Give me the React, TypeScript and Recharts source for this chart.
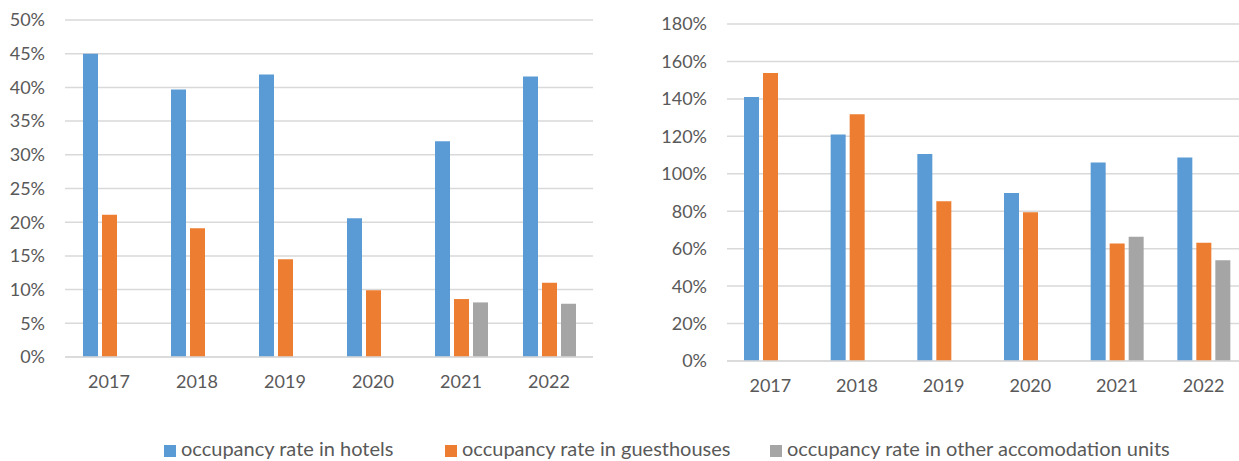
import { BarChart, Bar, XAxis, YAxis, CartesianGrid } from "recharts";

const YEARS = ["2017", "2018", "2019", "2020", "2021", "2022"];

// left panel: occupancy rate, %
const HOTELS_RATE = [45.0, 39.7, 41.9, 20.6, 32.0, 41.6];
const GUESTHOUSES_RATE = [21.1, 19.1, 14.5, 9.9, 8.6, 11.0];
const OTHER_RATE = [null, null, null, null, 8.1, 7.9];
const LEFT_TICKS = [0, 5, 10, 15, 20, 25, 30, 35, 40, 45, 50];

// right panel, %
const HOTELS_RIGHT = [141, 121, 110.5, 89.7, 106, 108.7];
const GUESTHOUSES_RIGHT = [153.8, 131.8, 85.3, 79.4, 62.7, 63.1];
const OTHER_RIGHT = [null, null, null, null, 66.4, 53.8];
const RIGHT_TICKS = [0, 20, 40, 60, 80, 100, 120, 140, 160, 180];

const SERIES = [
  { key: "hotels", name: "occupancy rate in hotels", color: "#5B9BD5" },
  { key: "guesthouses", name: "occupancy rate in guesthouses", color: "#ED7D31" },
  { key: "other", name: "occupancy rate in other accomodation units", color: "#A5A5A5" },
];

const LEGEND_X = [164, 445, 770];

const TEXT = "#595959";
const GRID = "#D9D9D9";
const FONT = "Lato, 'DejaVu Sans', sans-serif";
const PLOT_H = 337;

const leftData = YEARS.map((year, i) => ({
  year,
  hotels: HOTELS_RATE[i],
  guesthouses: GUESTHOUSES_RATE[i],
  other: OTHER_RATE[i],
}));

const rightData = YEARS.map((year, i) => ({
  year,
  hotels: HOTELS_RIGHT[i],
  guesthouses: GUESTHOUSES_RIGHT[i],
  other: OTHER_RIGHT[i],
}));

const pct = (v: number) => `${v}%`;

function Panel({ data, ticks, max, yWidth, margin, width }: any) {
  return (
    <BarChart
      width={width}
      height={400}
      data={data}
      margin={margin}
      barGap={4}
      barSize={15}
    >
      <CartesianGrid vertical={false} stroke={GRID} strokeWidth={1.5} />
      <XAxis
        dataKey="year"
        height={400 - margin.top - PLOT_H}
        tickLine={false}
        axisLine={{ stroke: GRID, strokeWidth: 1.5 }}
        tickMargin={12}
        tick={{ fill: TEXT, fontSize: 18, fontFamily: FONT }}
      />
      <YAxis
        domain={[0, max]}
        ticks={ticks}
        interval={0}
        width={yWidth}
        tickLine={false}
        axisLine={false}
        tickMargin={14}
        tickFormatter={pct}
        tick={{ fill: TEXT, fontSize: 18, fontFamily: FONT }}
      />
      {SERIES.map((s) => (
        <Bar key={s.key} dataKey={s.key} fill={s.color} isAnimationActive={false} />
      ))}
    </BarChart>
  );
}

export default function App() {
  return (
    <div
      style={{
        position: "absolute",
        left: 0,
        top: 0,
        width: 1239,
        height: 461,
        overflow: "hidden",
        background: "#fff",
        fontFamily: FONT,
      }}
    >
      <div style={{ position: "absolute", left: 0, top: 0 }}>
        <Panel
          data={leftData}
          ticks={LEFT_TICKS}
          max={50}
          yWidth={65}
          width={600}
          margin={{ top: 20, right: 7, bottom: 0, left: 0 }}
        />
      </div>
      <div style={{ position: "absolute", left: 620, top: 0 }}>
        <Panel
          data={rightData}
          ticks={RIGHT_TICKS}
          max={180}
          yWidth={107}
          width={640}
          margin={{ top: 24, right: 13, bottom: 0, left: 0 }}
        />
      </div>
      {SERIES.map((s, i) => (
        <div
          key={s.key}
          style={{
            position: "absolute",
            left: LEGEND_X[i],
            top: 437,
            display: "flex",
            alignItems: "center",
            whiteSpace: "nowrap",
            color: TEXT,
            fontSize: 20,
            lineHeight: "22px",
          }}
        >
          <span
            style={{
              display: "inline-block",
              width: 12,
              height: 12,
              background: s.color,
              marginRight: 5,
              marginTop: 6,
            }}
          />
          {s.name}
        </div>
      ))}
    </div>
  );
}
